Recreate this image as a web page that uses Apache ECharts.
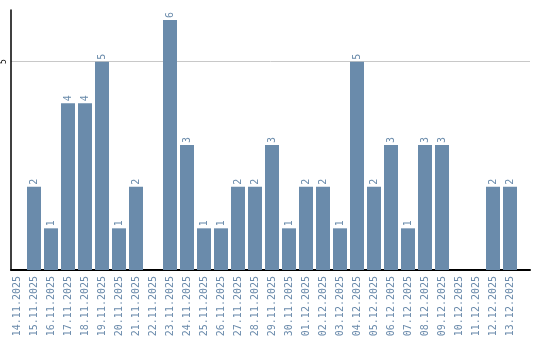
<!DOCTYPE html>
<html>
<head>
<meta charset="utf-8">
<script src="https://cdn.jsdelivr.net/npm/echarts@6/dist/echarts.min.js"></script>
<style>html,body{margin:0;padding:0;background:#fff}#c{width:540px;height:340px}</style>
</head>
<body>
<div id="c"></div>
<script>
const categories = ["14.11.2025","15.11.2025","16.11.2025","17.11.2025","18.11.2025","19.11.2025","20.11.2025","21.11.2025","22.11.2025","23.11.2025","24.11.2025","25.11.2025","26.11.2025","27.11.2025","28.11.2025","29.11.2025","30.11.2025","01.12.2025","02.12.2025","03.12.2025","04.12.2025","05.12.2025","06.12.2025","07.12.2025","08.12.2025","09.12.2025","10.12.2025","11.12.2025","12.12.2025","13.12.2025"];
const values = [0,2,1,4,4,5,1,2,0,6,3,1,1,2,2,3,1,2,2,1,5,2,3,1,3,3,0,0,2,2];
const yTicks = [5];
const yMax = 6.24;

const chart = echarts.init(document.getElementById('c'), null, {renderer:'canvas'});
chart.setOption({
  animation:false,
  grid:[
    {left:8.5,width:510,top:10,bottom:70,containLabel:false},
    {left:10,right:10,top:10,bottom:70,containLabel:false}
  ],
  xAxis:[{
    gridIndex:0,
    type:'category',
    data:categories,
    axisLine:{show:false},
    axisTick:{show:false},
    axisLabel:{rotate:90,color:'#6a8aab',fontSize:10,fontFamily:'DejaVu Sans Mono',margin:6,interval:0}
  },{
    gridIndex:1,
    type:'category',
    data:categories,
    axisLine:{show:true,lineStyle:{color:'#000',width:2}},
    axisTick:{show:false},
    axisLabel:{show:false}
  }],
  yAxis:[{
    gridIndex:0,
    type:'value',
    min:0,max:yMax,
    axisLine:{show:false},axisTick:{show:false},axisLabel:{show:false},splitLine:{show:false}
  },{
    gridIndex:1,
    type:'value',
    min:0,max:yMax,interval:5,
    axisLine:{show:true,lineStyle:{color:'#000',width:1.5}},
    axisTick:{show:false},
    splitLine:{show:true,showMinLine:false,showMaxLine:false,lineStyle:{color:'#c8c8c8',width:1}},
    axisLabel:{rotate:90,fontSize:8,color:'#000',margin:3,fontFamily:'DejaVu Sans Mono',
      showMaxLabel:false,
      formatter:v=>yTicks.includes(v)?String(v):''}
  }],
  series:[{
    type:'bar',
    xAxisIndex:0,yAxisIndex:0,
    data:values.map(v=>v===0?null:v),
    barWidth:14,
    itemStyle:{color:'#6a8bab'},
    label:{show:true,position:'top',rotate:90,align:'left',verticalAlign:'middle',distance:2,
      color:'#6a8bab',fontSize:10,fontFamily:'DejaVu Sans Mono'}
  }]
});
</script>
</body>
</html>
